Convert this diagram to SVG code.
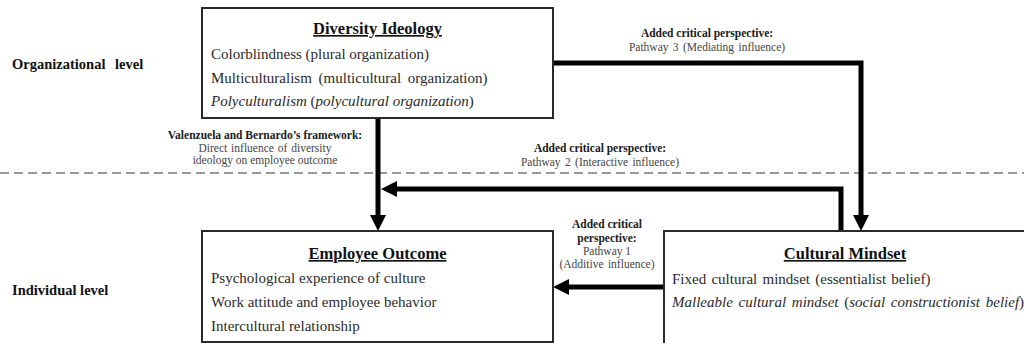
<svg xmlns="http://www.w3.org/2000/svg" width="1024" height="343" viewBox="0 0 1024 343">
<style>
text { font-family: "Liberation Serif", "Times New Roman", serif; fill: #222; }
.lvl { font-size: 14.5px; font-weight: bold; fill: #111; }
.title { font-size: 16.5px; font-weight: bold; text-decoration: underline; text-anchor: middle; fill: #111; }
.item { font-size: 15px; fill: #2a2a2a; }
.it { font-style: italic; }
.lb { font-size: 11.5px; font-weight: bold; text-anchor: middle; fill: #1a1a1a; }
.lr { font-size: 11.5px; text-anchor: middle; fill: #444; }
.box { fill: #fff; stroke: #2a2a2a; stroke-width: 2; }
.conn { fill: none; stroke: #000; stroke-width: 5; }
.divider { stroke: #777; stroke-width: 1.5; stroke-dasharray: 9 5; fill: none; }
</style>
<defs>
<marker id="arrow" viewBox="0 0 16 16" refX="0" refY="8" markerWidth="16" markerHeight="16" markerUnits="userSpaceOnUse" orient="auto">
<path d="M0,0 L16,8 L0,16 Z" fill="#000"/>
</marker>
</defs>
<rect width="1024" height="343" fill="#fff"/>
<line class="divider" x1="0" y1="173" x2="1024" y2="173"/>
<text class="lvl" x="12" y="69" word-spacing="6">Organizational level</text>
<text class="lvl" x="12" y="295">Individual level</text>

<g id="connectors">
<path class="conn" d="M378,118 V215" marker-end="url(#arrow)"/>
<path class="conn" d="M841,231 V189 H397" marker-end="url(#arrow)"/>
<path class="conn" d="M553,63 H861 V215" marker-end="url(#arrow)"/>
<path class="conn" d="M664,287 H569" marker-end="url(#arrow)"/>
<text class="lb" x="265" y="139">Valenzuela and Bernardo’s framework:</text>
<text class="lr" x="265" y="152" word-spacing="1">Direct influence of diversity</text>
<text class="lr" x="265" y="164">ideology on employee outcome</text>
<text class="lb" x="707" y="37">Added critical perspective:</text>
<text class="lr" x="707" y="51" word-spacing="1.5">Pathway 3 (Mediating influence)</text>
<text class="lb" x="600" y="152">Added critical perspective:</text>
<text class="lr" x="600" y="166" word-spacing="1.5">Pathway 2 (Interactive influence)</text>
<text class="lb" x="607" y="228">Added critical</text>
<text class="lb" x="607" y="242">perspective:</text>
<text class="lr" x="607" y="255">Pathway 1</text>
<text class="lr" x="607" y="268" word-spacing="1.5">(Additive influence)</text>
</g>

<g id="diversity-ideology">
<rect class="box" x="202" y="8" width="351" height="110"/>
<text class="title" x="377.5" y="34">Diversity Ideology</text>
<text class="item" x="211" y="59">Colorblindness (plural organization)</text>
<text class="item" x="211" y="82.5" word-spacing="3">Multiculturalism (multicultural organization)</text>
<text class="item" x="211" y="106"><tspan class="it">Polyculturalism</tspan> (<tspan class="it">polycultural organization</tspan>)</text>
</g>

<g id="employee-outcome">
<rect class="box" x="202" y="231" width="351" height="111"/>
<text class="title" x="377.5" y="259">Employee Outcome</text>
<text class="item" x="211" y="283">Psychological experience of culture</text>
<text class="item" x="211" y="307">Work attitude and employee behavior</text>
<text class="item" x="211" y="331">Intercultural relationship</text>
</g>

<g id="cultural-mindset">
<rect class="box" x="664" y="231" width="380" height="130"/>
<text class="title" x="845" y="259">Cultural Mindset</text>
<text class="item" x="672" y="284" word-spacing="1.5">Fixed cultural mindset (essentialist belief)</text>
<text class="item" x="672" y="307" word-spacing="2"><tspan class="it">Malleable cultural mindset</tspan> (<tspan class="it">social constructionist belief</tspan>)</text>
</g>
</svg>
